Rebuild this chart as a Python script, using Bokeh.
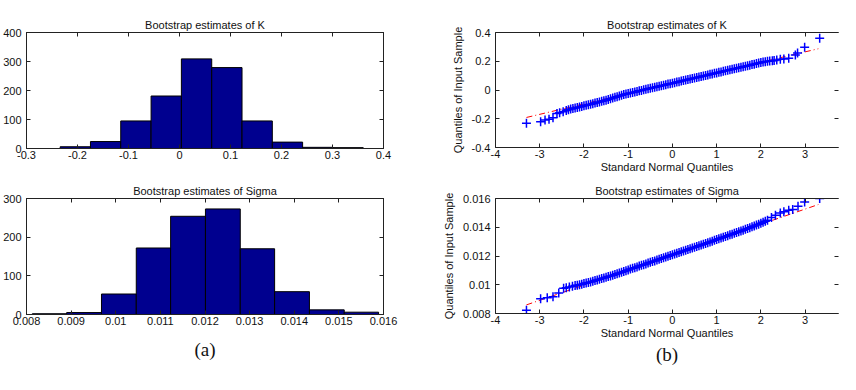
from bokeh.plotting import figure
from bokeh.layouts import row, column
from bokeh.models import LinearAxis, FixedTicker, Title, Range1d
from bokeh.embed import file_html
from bokeh.resources import INLINE

# ---------------- data ----------------
k_edges = [-0.234, -0.1746, -0.1152, -0.0557, 0.0037, 0.0632, 0.1226, 0.1820, 0.2414, 0.3008, 0.3603]
k_counts = [6, 24, 95, 181, 309, 279, 95, 22, 4, 3]

s_edges = [0.00813, 0.00890, 0.00968, 0.01046, 0.01123, 0.01201, 0.01279, 0.01356, 0.01434, 0.01512, 0.01589]
s_counts = [2, 5, 53, 172, 254, 273, 170, 59, 12, 6]

k_hist_xticks = [-0.3, -0.2, -0.1, 0, 0.1, 0.2, 0.3, 0.4]
k_hist_xlabels = ["-0.3", "-0.2", "-0.1", "0", "0.1", "0.2", "0.3", "0.4"]
k_hist_yticks = [0, 100, 200, 300, 400]
k_hist_ylabels = ["0", "100", "200", "300", "400"]

s_hist_xticks = [0.008, 0.009, 0.010, 0.011, 0.012, 0.013, 0.014, 0.015, 0.016]
s_hist_xlabels = ["0.008", "0.009", "0.01", "0.011", "0.012", "0.013", "0.014", "0.015", "0.016"]
s_hist_yticks = [0, 100, 200, 300]
s_hist_ylabels = ["0", "100", "200", "300"]

qq_xticks = [-4, -3, -2, -1, 0, 1, 2, 3, 4]
qq_xlabels = ["-4", "-3", "-2", "-1", "0", "1", "2", "3", "4"]
k_qq_yticks = [-0.4, -0.2, 0, 0.2, 0.4]
k_qq_ylabels = ["-0.4", "-0.2", "0", "0.2", "0.4"]
s_qq_yticks = [0.008, 0.010, 0.012, 0.014, 0.016]
s_qq_ylabels = ["0.008", "0.01", "0.012", "0.014", "0.016"]

# QQ plot of K: theoretical quantile (x) vs sample quantile (y)
k_qq_x = [-3.30, -2.98, -2.88, -2.79, -2.70, -2.61, -2.55, -2.47, -2.40, -2.35,
          -2.30, -2.25, -2.20, -2.15, -2.10, -2.05, -2.00, -1.95, -1.90, -1.85,
          -1.80, -1.75, -1.70, -1.65, -1.60, -1.55, -1.50, -1.45, -1.40, -1.35,
          -1.30, -1.25, -1.20, -1.15, -1.10, -1.05, -1.00, -0.95, -0.90, -0.85,
          -0.80, -0.75, -0.70, -0.65, -0.60, -0.55, -0.50, -0.45, -0.40, -0.35,
          -0.30, -0.25, -0.20, -0.15, -0.10, -0.05, 0.00, 0.05, 0.10, 0.15,
          0.20, 0.25, 0.30, 0.35, 0.40, 0.45, 0.50, 0.55, 0.60, 0.65,
          0.70, 0.75, 0.80, 0.85, 0.90, 0.95, 1.00, 1.05, 1.10, 1.15,
          1.20, 1.25, 1.30, 1.35, 1.40, 1.45, 1.50, 1.55, 1.60, 1.65,
          1.70, 1.75, 1.80, 1.85, 1.90, 1.95, 2.00, 2.05, 2.10, 2.15,
          2.20, 2.26, 2.30, 2.36, 2.44, 2.52, 2.63, 2.78, 2.83, 2.99, 3.33]
k_qq_y = [-0.231, -0.220, -0.209, -0.203, -0.193, -0.163, -0.158, -0.151, -0.143, -0.138,
          -0.133, -0.129, -0.125, -0.122, -0.118, -0.114, -0.110, -0.106, -0.102, -0.099,
          -0.095, -0.091, -0.087, -0.083, -0.079, -0.075, -0.071, -0.066, -0.061, -0.056,
          -0.051, -0.047, -0.042, -0.037, -0.032, -0.028, -0.024, -0.021, -0.017, -0.014,
          -0.010, -0.006, -0.003, 0.001, 0.005, 0.008, 0.012, 0.015, 0.019, 0.023,
          0.026, 0.030, 0.033, 0.037, 0.041, 0.044, 0.047, 0.051, 0.055, 0.058,
          0.062, 0.066, 0.069, 0.073, 0.076, 0.080, 0.084, 0.087, 0.091, 0.094,
          0.098, 0.101, 0.105, 0.109, 0.112, 0.116, 0.119, 0.123, 0.126, 0.130,
          0.134, 0.137, 0.141, 0.144, 0.148, 0.152, 0.155, 0.159, 0.162, 0.166,
          0.169, 0.173, 0.177, 0.180, 0.184, 0.187, 0.191, 0.194, 0.197, 0.200,
          0.202, 0.204, 0.206, 0.209, 0.214, 0.216, 0.221, 0.244, 0.258, 0.297, 0.360]
k_ref_x = [-3.30, 3.30]
k_ref_y = [-0.191, 0.287]
k_quart_x = [-0.674, 0.674]
k_quart_y = [-0.001, 0.097]

# QQ plot of Sigma
s_qq_x = [-3.30, -2.98, -2.83, -2.70, -2.57, -2.46, -2.40, -2.33, -2.26, -2.20, -2.15,
          -2.10, -2.05, -2.00, -1.95, -1.90, -1.85, -1.80, -1.75, -1.70, -1.65,
          -1.60, -1.55, -1.50, -1.45, -1.40, -1.35, -1.30, -1.25, -1.20, -1.15,
          -1.10, -1.05, -1.00, -0.95, -0.90, -0.85, -0.80, -0.75, -0.70, -0.65,
          -0.60, -0.55, -0.50, -0.45, -0.40, -0.35, -0.30, -0.25, -0.20, -0.15,
          -0.10, -0.05, 0.00, 0.05, 0.10, 0.15, 0.20, 0.25, 0.30, 0.35,
          0.40, 0.45, 0.50, 0.55, 0.60, 0.65, 0.70, 0.75, 0.80, 0.85,
          0.90, 0.95, 1.00, 1.05, 1.10, 1.15, 1.20, 1.25, 1.30, 1.35,
          1.40, 1.45, 1.50, 1.55, 1.60, 1.65, 1.70, 1.75, 1.80, 1.85,
          1.90, 1.95, 2.00, 2.05, 2.10, 2.15,
          2.24, 2.33, 2.44, 2.52, 2.63, 2.72, 2.84, 2.99, 3.33]
s_qq_y = [0.00823, 0.00903, 0.00909, 0.00917, 0.00943, 0.00975, 0.00980, 0.00984, 0.00990, 0.00994, 0.00997,
          0.01000, 0.01003, 0.01008, 0.01012, 0.01016, 0.01020, 0.01025, 0.01029, 0.01033, 0.01038,
          0.01043, 0.01047, 0.01052, 0.01057, 0.01061, 0.01066, 0.01072, 0.01077, 0.01082, 0.01087,
          0.01093, 0.01098, 0.01103, 0.01109, 0.01114, 0.01119, 0.01124, 0.01130, 0.01135, 0.01140,
          0.01145, 0.01151, 0.01156, 0.01161, 0.01166, 0.01172, 0.01177, 0.01183, 0.01188, 0.01193,
          0.01198, 0.01204, 0.01209, 0.01214, 0.01219, 0.01225, 0.01230, 0.01235, 0.01240, 0.01245,
          0.01250, 0.01256, 0.01261, 0.01266, 0.01271, 0.01277, 0.01282, 0.01287, 0.01293, 0.01298,
          0.01303, 0.01309, 0.01314, 0.01320, 0.01325, 0.01330, 0.01336, 0.01341, 0.01347, 0.01352,
          0.01358, 0.01363, 0.01369, 0.01374, 0.01380, 0.01386, 0.01391, 0.01397, 0.01403, 0.01409,
          0.01415, 0.01421, 0.01428, 0.01435, 0.01442, 0.01449,
          0.01468, 0.01484, 0.01500, 0.01507, 0.01519, 0.01523, 0.01546, 0.01576, 0.01600]
s_ref_x = [-3.30, 3.30]
s_ref_y = [0.00860, 0.01558]
s_quart_x = [-0.674, 0.674]
s_quart_y = [0.01138, 0.01280]

title_k = "Bootstrap estimates of K"
title_s = "Bootstrap estimates of Sigma"
qq_xlabel = "Standard Normal Quantiles"
qq_ylabel = "Quantiles of Input Sample"

# ---------------- styling helpers ----------------
FONT = "Liberation Sans"
AX = "#222222"


def style_axis(ax, ticks, labels, show_labels=True, show_line=True):
    ax.ticker = FixedTicker(ticks=ticks)
    ax.minor_tick_line_color = None
    ax.major_tick_in = 4
    ax.major_tick_out = 0
    ax.major_tick_line_color = AX
    ax.axis_line_color = AX if show_line else None
    ax.major_label_text_font = FONT
    if show_labels:
        ax.major_label_overrides = {t: l for t, l in zip(ticks, labels)}
        ax.major_label_text_font_size = "11px"
        ax.major_label_text_color = "#111111"
    else:
        ax.major_label_text_font_size = "1px"
        ax.major_label_text_color = None
        ax.major_label_standoff = 0


def make_fig(w, h, bl, br, bt, bb, xr, yr, title, xt, xl, yt, yl, box=True):
    p = figure(width=w, height=h, x_range=Range1d(*xr), y_range=Range1d(*yr),
               output_backend="svg", toolbar_location=None,
               min_border_left=bl, min_border_right=br,
               min_border_top=bt, min_border_bottom=bb, title=title)
    p.xgrid.visible = False
    p.ygrid.visible = False
    p.title.align = "center"
    p.title.text_font = FONT
    p.title.text_font_size = "11px"
    p.title.text_font_style = "normal"
    p.title.text_color = "#111111"
    p.title.standoff = 4
    p.outline_line_color = AX if box else None
    p.background_fill_color = "white"
    p.border_fill_color = "white"
    style_axis(p.below[0], xt, xl)
    p.below[0].major_label_standoff = 2
    style_axis(p.left[0], yt, yl)
    p.left[0].major_label_standoff = 5
    top = LinearAxis()
    style_axis(top, xt, xl, show_labels=False)
    p.add_layout(top, "above")
    right = LinearAxis()
    style_axis(right, yt, yl, show_labels=False, show_line=box)
    p.add_layout(right, "right")
    return p


BAR = "#00008F"

# widths / heights (pixels)
WL = 439
WR = 840 - WL
H1 = 178
H2 = 196

# --- (a) top: histogram of K
p1 = make_fig(WL, H1, 23, WL - 383, 32, H1 - 148, (-0.3, 0.4), (0, 400), title_k,
              k_hist_xticks, k_hist_xlabels, k_hist_yticks, k_hist_ylabels)
p1.quad(left=k_edges[:-1], right=k_edges[1:], top=k_counts, bottom=0,
        fill_color=BAR, line_color="black", line_width=1)

# --- (a) bottom: histogram of Sigma
p2 = make_fig(WL, H2, 23, WL - 383, 20, H2 - 20 - 116, (0.008, 0.016), (0, 300), title_s,
              s_hist_xticks, s_hist_xlabels, s_hist_yticks, s_hist_ylabels)
p2.quad(left=s_edges[:-1], right=s_edges[1:], top=s_counts, bottom=0,
        fill_color=BAR, line_color="black", line_width=1)
p2.add_layout(Title(text="(a)", align="center", text_font="Liberation Serif",
                    text_font_size="19px", text_font_style="normal", text_color="#111111",
                    offset=-9, standoff=19), "below")

# --- (b) top: QQ plot of K
fr_w = WR - 50 - 2
x_end = -4 + fr_w / 45.0
p3 = make_fig(WR, H1, 50, 2, 32, H1 - 147, (-4, x_end), (-0.4, 0.4), title_k,
              qq_xticks, qq_xlabels, k_qq_yticks, k_qq_ylabels, box=False)
p3.line(k_ref_x, k_ref_y, line_color="red", line_dash="6 3 1 3", line_width=1)
p3.line(k_quart_x, k_quart_y, line_color="red", line_width=1)
p3.scatter(k_qq_x, k_qq_y, marker="cross", size=9, line_color="blue", line_width=1.5)

# --- (b) bottom: QQ plot of Sigma
p4 = make_fig(WR, H2, 50, 2, 20, H2 - 20 - 115, (-4, x_end), (0.008, 0.016), title_s,
              qq_xticks, qq_xlabels, s_qq_yticks, s_qq_ylabels, box=False)
p4.line(s_ref_x, s_ref_y, line_color="red", line_dash="6 3 1 3", line_width=1)
p4.line(s_quart_x, s_quart_y, line_color="red", line_width=1)
p4.scatter(s_qq_x, s_qq_y, marker="cross", size=9, line_color="blue", line_width=1.5)

for p in (p3, p4):
    xa = p.below[0]
    ya = p.left[0]
    for ax in (xa, ya):
        ax.axis_label_text_font = FONT
        ax.axis_label_text_font_size = "11px"
        ax.axis_label_text_font_style = "normal"
        ax.axis_label_text_color = "#111111"
    xa.axis_label = qq_xlabel
    xa.axis_label_standoff = 0
    ya.axis_label = qq_ylabel
    ya.axis_label_standoff = 5

p4.add_layout(Title(text="(b)", align="center", text_font="Liberation Serif",
                    text_font_size="19px", text_font_style="normal", text_color="#111111",
                    offset=-9, standoff=0), "below")

layout = row(column(p1, p2), column(p3, p4))

with open("out.html", "w") as f:
    f.write(file_html(layout, INLINE))
